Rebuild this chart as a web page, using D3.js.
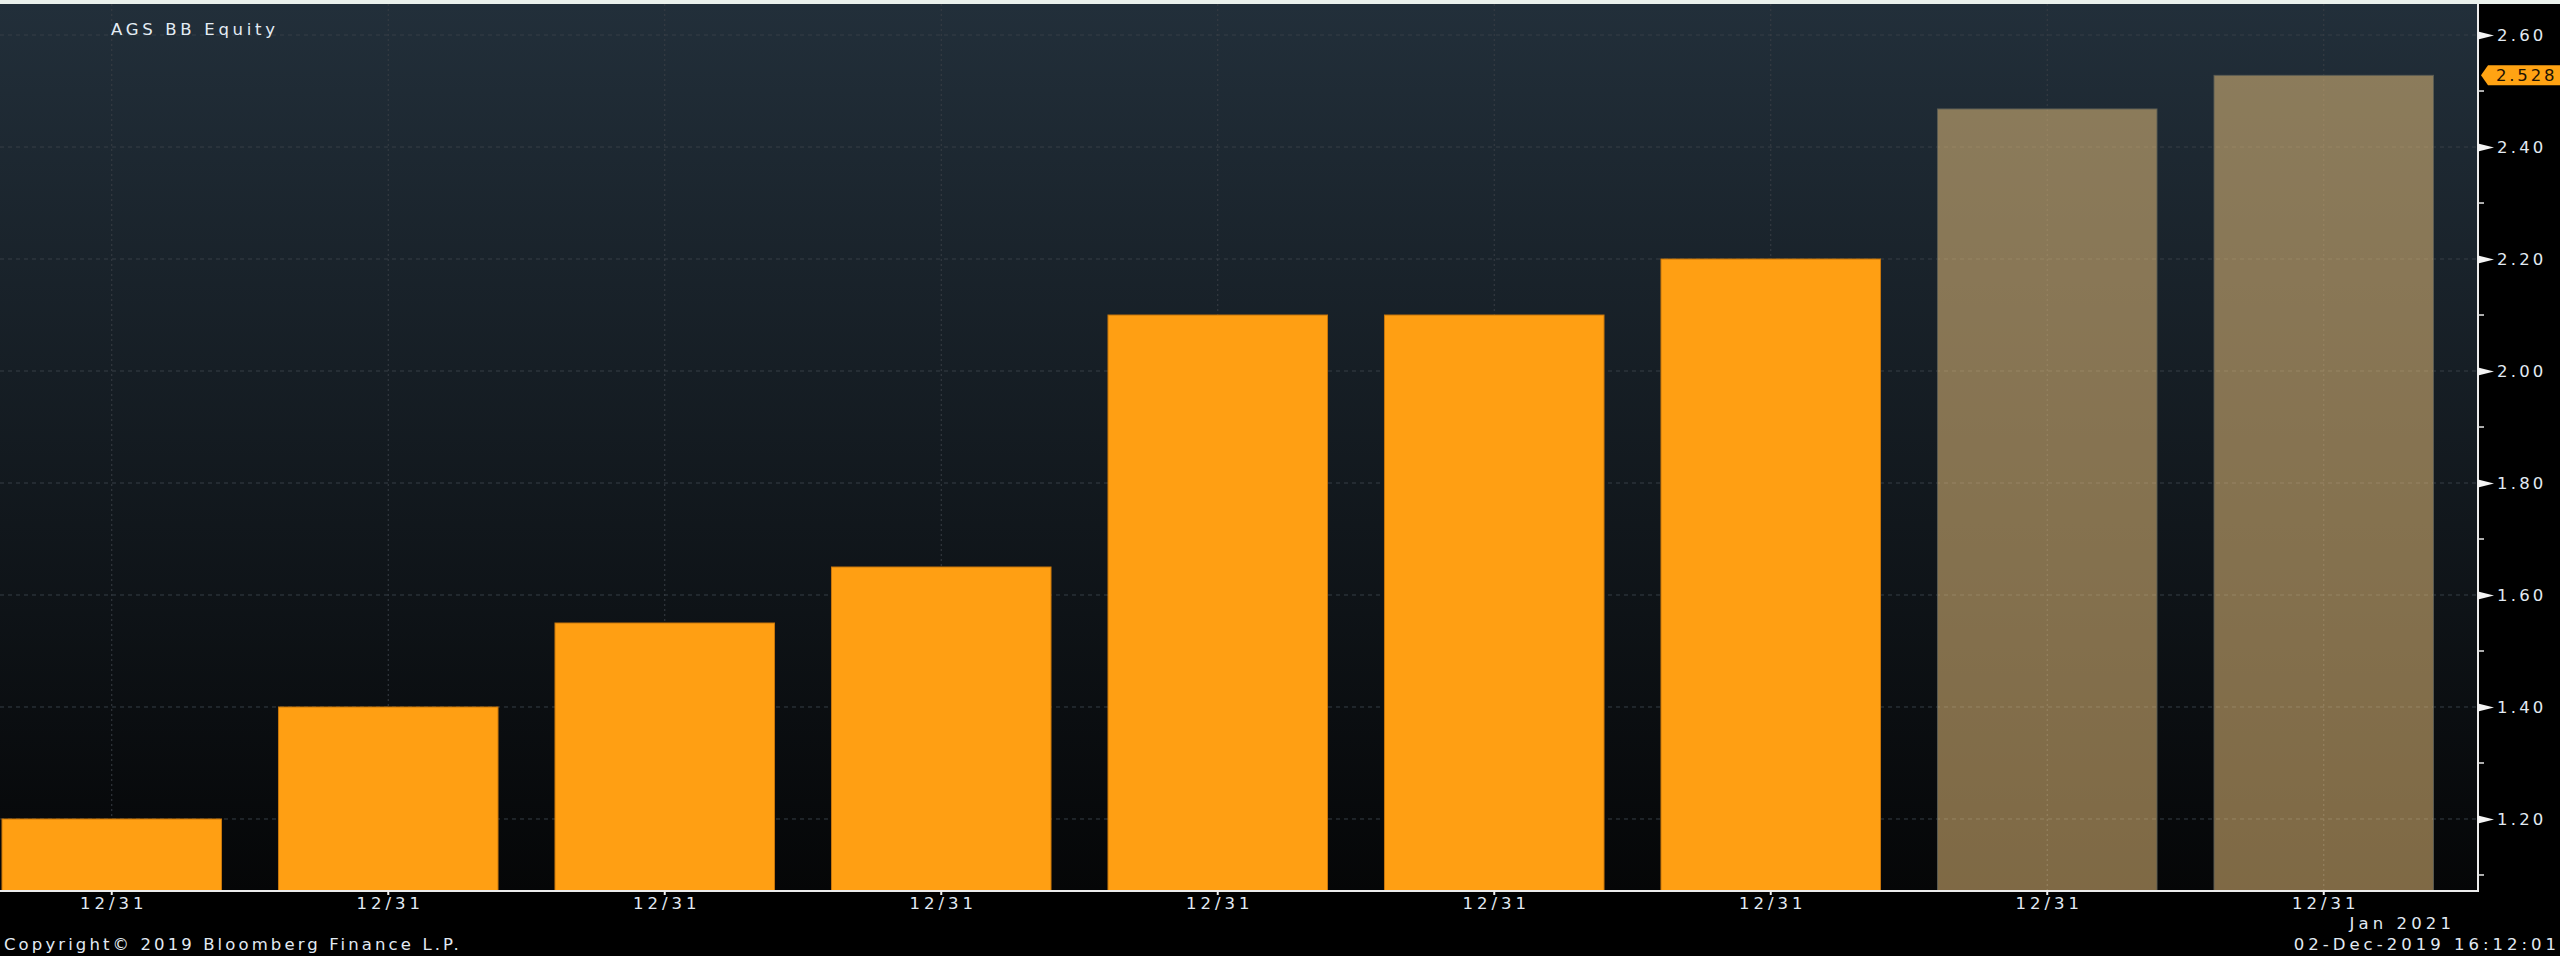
<!DOCTYPE html>
<html>
<head>
<meta charset="utf-8">
<script src="https://cdn.jsdelivr.net/npm/d3@7/dist/d3.min.js"></script>
<style>
  html, body { margin: 0; padding: 0; background: #000; overflow: hidden; }
  svg { display: block; }
  text { font-family: "DejaVu Sans", Verdana, sans-serif; }
</style>
</head>
<body>
<svg id="chart" width="2560" height="956"></svg>
<script>
// ---- data ----
const categories = ["2012", "2013", "2014", "2015", "2016", "2017", "2018", "2019", "2020"];
const tickLabels = ["12/31", "12/31", "12/31", "12/31", "12/31", "12/31", "12/31", "12/31", "12/31"];
const values = [1.20, 1.40, 1.55, 1.65, 2.10, 2.10, 2.20, 2.468, 2.528];
const isEstimate = [false, false, false, false, false, false, false, true, true];
const yMajorTicks = [1.20, 1.40, 1.60, 1.80, 2.00, 2.20, 2.40, 2.60];
const yMinorTicks = [1.10, 1.30, 1.50, 1.70, 1.90, 2.10, 2.30, 2.50];
const yDomain = [1.0714, 2.6554];
const title = "AGS BB Equity";
const lastValueLabel = "2.528";
const periodLabel = "Jan 2021";
const copyright = "Copyright\u00A9 2019 Bloomberg Finance L.P.";
const timestamp = "02-Dec-2019 16:12:01";

// ---- layout ----
const W = 2560, H = 956;
const plot = { left: 0, right: 2478, top: 4, bottom: 891 };
const svg = d3.select("#chart");

const x = d3.scaleBand().domain(categories)
  .range([-26.5, 2462]).paddingInner(0.206).paddingOuter(0.103);
const y = d3.scaleLinear().domain(yDomain).range([plot.bottom, plot.top]);

const defs = svg.append("defs");
const bg = defs.append("linearGradient").attr("id", "bg")
  .attr("gradientUnits", "userSpaceOnUse")
  .attr("x1", 0).attr("y1", plot.top).attr("x2", 0).attr("y2", plot.bottom);
bg.append("stop").attr("offset", "0%").attr("stop-color", "#222f3a");
bg.append("stop").attr("offset", "100%").attr("stop-color", "#050607");

// overall background
svg.append("rect").attr("width", W).attr("height", H).attr("fill", "#000");
svg.append("rect").attr("width", W).attr("height", plot.top).attr("fill", "#eaf1ec");
svg.append("rect").attr("x", plot.left).attr("y", plot.top)
  .attr("width", plot.right - plot.left).attr("height", plot.bottom - plot.top)
  .attr("fill", "url(#bg)");

// grid
const grid = svg.append("g");
grid.selectAll("line.h").data(yMajorTicks).join("line")
  .attr("x1", plot.left).attr("x2", plot.right)
  .attr("y1", d => y(d)).attr("y2", d => y(d))
  .attr("stroke", "#363f47").attr("stroke-width", 1).attr("stroke-dasharray", "4,4");
grid.selectAll("line.v").data(categories).join("line")
  .attr("x1", d => x(d) + x.bandwidth() / 2).attr("x2", d => x(d) + x.bandwidth() / 2)
  .attr("y1", plot.top).attr("y2", plot.bottom)
  .attr("stroke", "#393e44").attr("stroke-width", 1).attr("stroke-dasharray", "2,3");

// bars
svg.append("g").selectAll("rect").data(categories).join("rect")
  .attr("x", d => x(d))
  .attr("y", (d, i) => y(values[i]))
  .attr("width", x.bandwidth())
  .attr("height", (d, i) => plot.bottom - y(values[i]))
  .attr("fill", (d, i) => isEstimate[i] ? "rgba(240,198,127,0.52)" : "#ff9f13")
  .attr("stroke", (d, i) => isEstimate[i] ? "rgba(90,92,84,0.9)" : "#c7760c")
  .attr("stroke-width", 1);

// axes lines
svg.append("line").attr("x1", plot.right).attr("x2", plot.right)
  .attr("y1", plot.top).attr("y2", plot.bottom + 1)
  .attr("stroke", "#ececec").attr("stroke-width", 2);
svg.append("line").attr("x1", 0).attr("x2", plot.right + 1)
  .attr("y1", plot.bottom).attr("y2", plot.bottom)
  .attr("stroke", "#ececec").attr("stroke-width", 2);

// y axis ticks (right)
const yAxis = d3.axisRight(y).tickValues(yMajorTicks).tickFormat(d3.format(".2f")).tickSize(0).tickPadding(19);
const gy = svg.append("g").attr("transform", `translate(${plot.right},0)`).call(yAxis);
gy.select(".domain").remove();
gy.selectAll(".tick text")
  .attr("fill", "#e2eaf3").attr("font-size", 16.5).attr("letter-spacing", "3.2px")
  .attr("dy", "0.36em");
gy.selectAll(".tick").append("path")
  .attr("d", "M0,-4 L0,4 L16,0 Z").attr("fill", "#f4f4f4");
svg.append("g").selectAll("line").data(yMinorTicks).join("line")
  .attr("x1", plot.right).attr("x2", plot.right + 6)
  .attr("y1", d => y(d)).attr("y2", d => y(d))
  .attr("stroke", "#e6e6e6").attr("stroke-width", 1.5);

// x axis
const xAxis = d3.axisBottom(x).tickFormat((d, i) => tickLabels[i]).tickSize(4).tickPadding(5);
const gx = svg.append("g").attr("transform", `translate(0,${plot.bottom})`).call(xAxis);
gx.select(".domain").remove();
gx.selectAll(".tick line").attr("stroke", "#f0f0f0").attr("stroke-width", 2);
gx.selectAll(".tick text")
  .attr("fill", "#e2eaf3").attr("font-size", 16.5).attr("letter-spacing", "4px")
  .attr("dx", "2px").attr("dy", "0.55em");

// last value tag
const yl = y(values[values.length - 1]);
const tag = svg.append("g");
tag.append("path")
  .attr("d", `M${plot.right + 3},${yl} L${plot.right + 10},${yl - 10} L${W},${yl - 10} L${W},${yl + 10} L${plot.right + 10},${yl + 10} Z`)
  .attr("fill", "#ffa313");
tag.append("text").attr("x", 2496).attr("y", yl).attr("dy", "0.36em")
  .attr("fill", "#1a1204").attr("font-size", 16.5).attr("letter-spacing", "2.8px")
  .text(lastValueLabel);

// texts
svg.append("text").attr("x", 111).attr("y", 35)
  .attr("fill", "#e4ecf4").attr("font-size", 16.5).attr("letter-spacing", "3.7px")
  .text(title);
svg.append("text").attr("x", 2455).attr("y", 929).attr("text-anchor", "end")
  .attr("fill", "#e2eaf3").attr("font-size", 16.5).attr("letter-spacing", "4.1px")
  .text(periodLabel);
svg.append("text").attr("x", 4).attr("y", 950)
  .attr("fill", "#e2eaf3").attr("font-size", 16.5).attr("letter-spacing", "3.1px")
  .text(copyright);
svg.append("text").attr("x", 2560).attr("y", 950).attr("text-anchor", "end")
  .attr("fill", "#e2eaf3").attr("font-size", 16.5).attr("letter-spacing", "4px")
  .text(timestamp);
</script>
</body>
</html>
